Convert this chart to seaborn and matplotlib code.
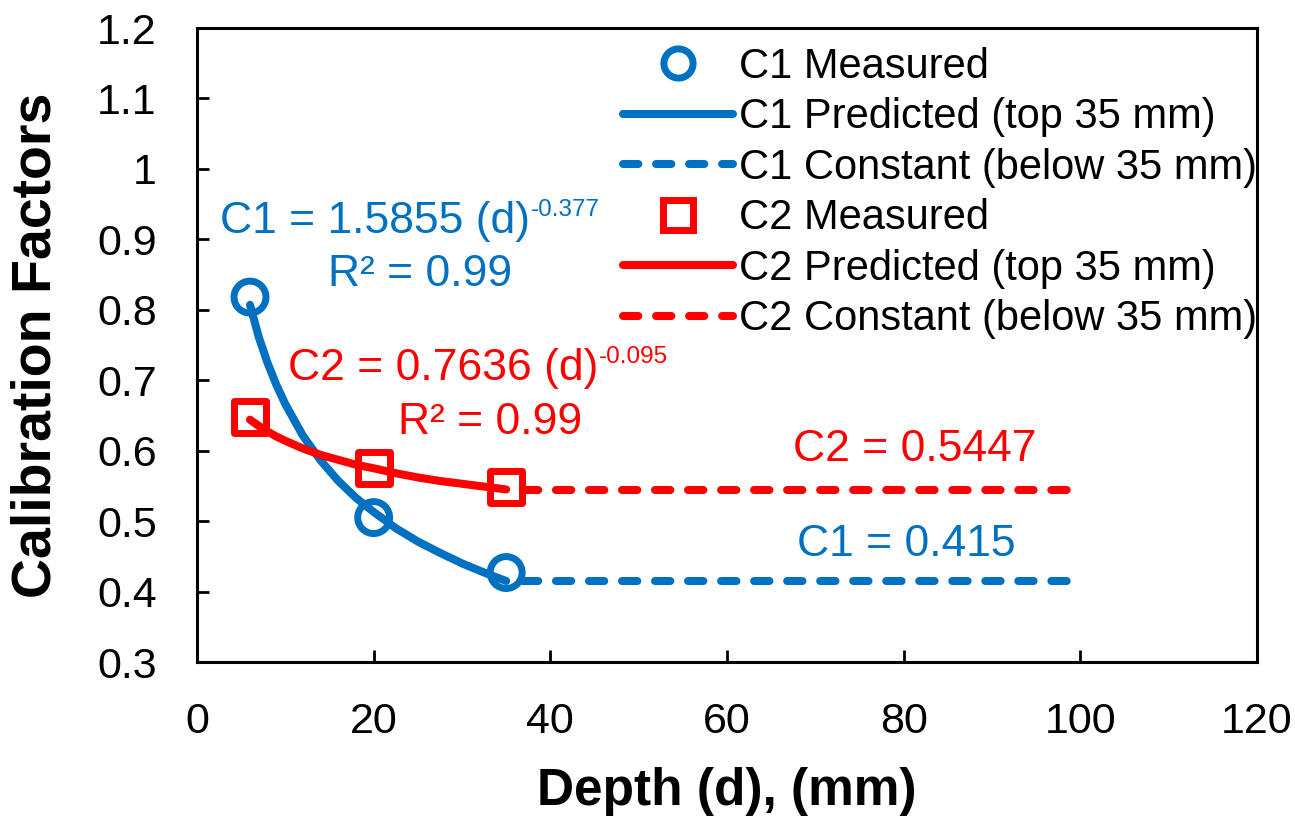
import matplotlib
matplotlib.use("Agg")
import matplotlib.pyplot as plt
import seaborn as sns
from matplotlib.lines import Line2D
from matplotlib.ticker import FuncFormatter, MultipleLocator
from matplotlib import font_manager as fm

# ---------------- data ----------------
depth_measured = [6, 20, 35]
c1_measured = [0.818, 0.505, 0.427]
c2_measured = [0.648, 0.575, 0.549]

depth_pred = [6, 7, 8, 9, 10, 12, 14, 16, 18, 20, 22.5, 25, 27.5, 30, 32.5, 35]
c1_pred = [0.807, 0.761, 0.724, 0.693, 0.666, 0.621, 0.586, 0.557, 0.533,
           0.513, 0.490, 0.471, 0.455, 0.440, 0.427, 0.415]
c2_pred = [0.644, 0.635, 0.627, 0.620, 0.614, 0.603, 0.594, 0.587, 0.580,
           0.575, 0.568, 0.562, 0.557, 0.553, 0.549, 0.545]

depth_const = [35, 98.5]
c1_const = [0.415, 0.415]
c2_const = [0.5447, 0.5447]

legend_labels = ["C1 Measured", "C1 Predicted (top 35 mm)", "C1 Constant (below 35 mm)",
                 "C2 Measured", "C2 Predicted (top 35 mm)", "C2 Constant (below 35 mm)"]
x_ticks = [0, 20, 40, 60, 80, 100, 120]

BLUE = "#0070C0"
RED = "#FF0000"

# ---------------- style ----------------
sns.set_style("white")
plt.rcParams["font.family"] = ["Liberation Sans", "DejaVu Sans"]
plt.rcParams.update({"text.color": "black", "axes.labelcolor": "black",
                     "xtick.color": "black", "ytick.color": "black",
                     "legend.labelcolor": "black"})

names = {f.name for f in fm.fontManager.ttflist}
if "Liberation Sans Narrow" in names:
    leg_family, leg_size = ["Liberation Sans Narrow", "DejaVu Sans"], 36
else:
    leg_family, leg_size = ["Liberation Sans", "DejaVu Sans"], 30
leg_px = leg_size * 100 / 72

fig = plt.figure(figsize=(12.95, 8.21), dpi=100)
ax = fig.add_axes([197 / 1295, 1 - 662 / 821, 1060 / 1295, 634 / 821])

LW = 5.8
DASH = (0, (1.9, 2.2))
DASH_CONST = (2.0, (1.9, 2.2))

# predicted curves
sns.lineplot(x=depth_pred, y=c1_pred, ax=ax, color=BLUE, lw=LW, sort=False,
             estimator=None, solid_capstyle="round", zorder=2)
sns.lineplot(x=depth_pred, y=c2_pred, ax=ax, color=RED, lw=LW, sort=False,
             estimator=None, solid_capstyle="round", zorder=2)
# constant lines
sns.lineplot(x=depth_const, y=c1_const, ax=ax, color=BLUE, lw=LW, sort=False,
             estimator=None, linestyle=DASH_CONST, dash_capstyle="round", zorder=2)
sns.lineplot(x=depth_const, y=c2_const, ax=ax, color=RED, lw=LW, sort=False,
             estimator=None, linestyle=DASH_CONST, dash_capstyle="round", zorder=2)
# measured
sns.scatterplot(x=depth_measured, y=c1_measured, ax=ax, marker="o", s=529,
                facecolor="none", edgecolor=BLUE, linewidth=5, zorder=3)
sns.scatterplot(x=depth_measured, y=c2_measured, ax=ax, marker="s", s=529,
                facecolor="none", edgecolor=RED, linewidth=5, zorder=3)

# axes
ax.set_xlim(0, 120)
ax.set_ylim(0.3, 1.2)
ax.set_xticks(x_ticks)
ax.yaxis.set_major_locator(MultipleLocator(0.1))
ax.yaxis.set_major_formatter(FuncFormatter(lambda v, p: f"{round(v, 2):g}"))
for sp in ax.spines.values():
    sp.set_visible(True)
    sp.set_color("black")
    sp.set_linewidth(2.2)
ax.tick_params(direction="in", length=8.5, width=2, labelsize=31, pad=29,
               colors="black", labelcolor="black",
               bottom=True, left=True, top=False, right=False)

ax.set_xlabel("Depth (d), (mm)", fontsize=37, fontweight="bold", va="center", color="black")
ax.xaxis.set_label_coords(0.5, -0.205)
ax.set_ylabel("Calibration Factors", fontsize=40, fontweight="bold", va="center", color="black")
ax.yaxis.set_label_coords(-0.151, 0.5)

# annotations
t1 = ax.text(2.6, 0.909, "C1 = 1.5855 (d)", color=BLUE, fontsize=32, ha="left", va="baseline")
ax.annotate("-0.377", xy=(1, 1), xycoords=t1, xytext=(0.3, 1.5), textcoords="offset points",
            fontsize=17.5, color=BLUE, ha="left", va="top")
ax.text(14.8, 0.834, "R² = 0.99", color=BLUE, fontsize=32, ha="left", va="baseline")

t2 = ax.text(10.3, 0.7007, "C2 = 0.7636 (d)", color=RED, fontsize=32, ha="left", va="baseline")
ax.annotate("-0.095", xy=(1, 1), xycoords=t2, xytext=(0.3, 1.5), textcoords="offset points",
            fontsize=17.5, color=RED, ha="left", va="top")
ax.text(22.8, 0.624, "R² = 0.99", color=RED, fontsize=32, ha="left", va="baseline")

ax.text(67.5, 0.586, "C2 = 0.5447", color=RED, fontsize=32, ha="left", va="baseline")
ax.text(67.9, 0.451, "C1 = 0.415", color=BLUE, fontsize=32, ha="left", va="baseline")

# legend
handles = [
    Line2D([], [], ls="none", marker="o", ms=21, mew=5, mfc="none", mec=BLUE),
    Line2D([], [], color=BLUE, lw=LW),
    Line2D([], [], color=BLUE, lw=LW, ls=DASH, dash_capstyle="round"),
    Line2D([], [], ls="none", marker="s", ms=21, mew=5, mfc="none", mec=RED),
    Line2D([], [], color=RED, lw=LW),
    Line2D([], [], color=RED, lw=LW, ls=DASH, dash_capstyle="round"),
]
leg = ax.legend(handles, legend_labels, loc="upper right",
                bbox_to_anchor=(1.0, 1 - 19 / 634), frameon=False,
                borderpad=0, borderaxespad=0,
                prop={"family": leg_family, "size": leg_size},
                handlelength=110 / leg_px, handletextpad=6 / leg_px,
                labelspacing=0.25 if leg_size == 30 else 0.08)
for txt in leg.get_texts():
    txt.set_color("black")

fig.savefig("out.png", dpi=100)
